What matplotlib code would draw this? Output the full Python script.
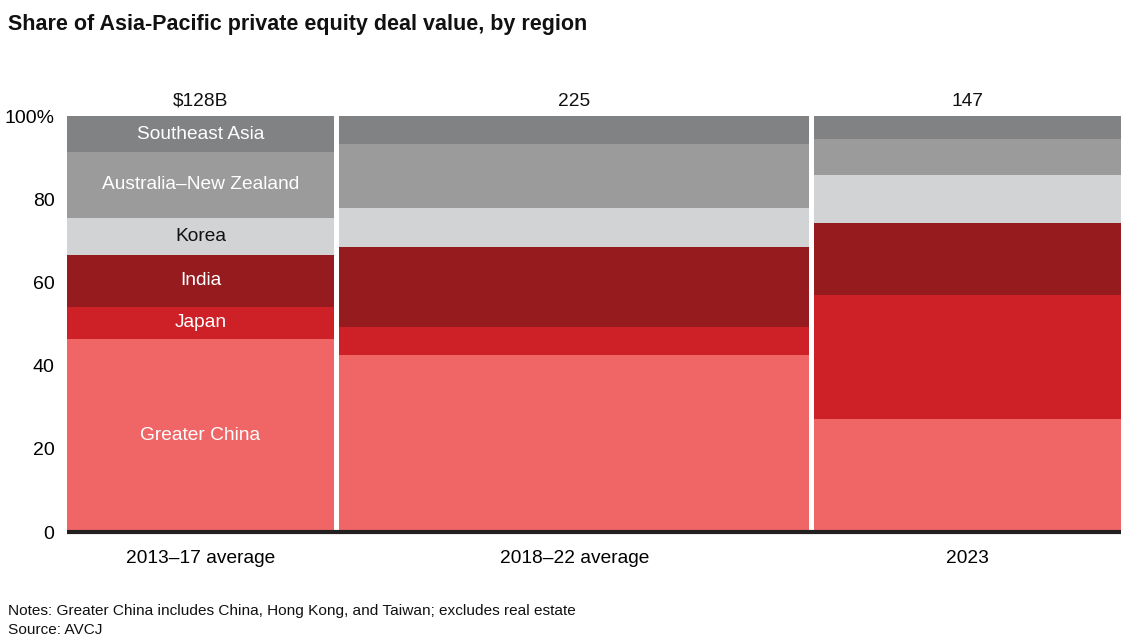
import matplotlib.pyplot as plt
import numpy as np

plt.rcParams['font.family'] = ['Liberation Sans', 'DejaVu Sans']

# data
periods = ['2013–17 average', '2018–22 average', '2023']
totals = [128, 225, 147]
total_labels = ['$128B', '225', '147']
regions = ['Greater China', 'Japan', 'India', 'Korea', 'Australia–New Zealand', 'Southeast Asia']
greater_china = [46.4, 42.5, 27.2]
japan = [7.7, 6.8, 29.8]
india = [12.6, 19.2, 17.3]
korea = [8.9, 9.4, 11.5]
anz = [15.7, 15.4, 8.7]
sea = [8.7, 6.7, 5.5]

shares = [greater_china, japan, india, korea, anz, sea]
colors = ['#F06666', '#CD2027', '#961B1F', '#D2D3D5', '#9A9B9A', '#818284']
label_colors = ['white', 'white', 'white', '#111111', 'white', 'white']

fig = plt.figure(figsize=(11.26, 6.36), dpi=100)
ax = fig.add_axes([0.0595, 0.1635, 0.9361, 0.6541])

gap = 2.6
lefts = []
x = 0
for t in totals:
    lefts.append(x)
    x += t + gap
lefts = np.array(lefts)
widths = np.array(totals)

bottom = np.zeros(3)
for i, vals in enumerate(shares):
    vals = np.array(vals)
    ax.bar(lefts, vals, width=widths, bottom=bottom, align='edge',
           color=colors[i], edgecolor='none')
    # labels only in the first column
    ax.text(lefts[0] + widths[0] / 2, bottom[0] + vals[0] / 2, regions[i],
            ha='center', va='center', fontsize=13.8, color=label_colors[i])
    bottom += vals

for j in range(3):
    ax.text(lefts[j] + widths[j] / 2, 101.5, total_labels[j], ha='center',
            va='bottom', fontsize=13.8, color='#111111')

ax.set_xlim(0, lefts[-1] + widths[-1])
ax.set_ylim(0, 100)
ax.set_yticks([0, 20, 40, 60, 80, 100])
ax.set_yticklabels(['0', '20', '40', '60', '80', '100%'], fontsize=14)
ax.set_xticks(lefts + widths / 2)
ax.set_xticklabels(periods, fontsize=13.8)
ax.tick_params(axis='y', length=0, pad=9)
ax.tick_params(axis='x', length=0, pad=13)
for s in ['top', 'right', 'left']:
    ax.spines[s].set_visible(False)
ax.spines['bottom'].set_linewidth(3)
ax.spines['bottom'].set_color('#231F20')
ax.spines['bottom'].set_capstyle('butt')

fig.text(0.007, 0.961, 'Share of Asia-Pacific private equity deal value, by region',
         fontsize=15.5, fontweight='bold', va='center', color='#111111')
fig.text(0.007, 0.040, 'Notes: Greater China includes China, Hong Kong, and Taiwan; excludes real estate',
         fontsize=11.1, va='center', color='#111111')
fig.text(0.007, 0.010, 'Source: AVCJ', fontsize=11.1, va='center', color='#111111')

fig.savefig('out.png', dpi=100)
